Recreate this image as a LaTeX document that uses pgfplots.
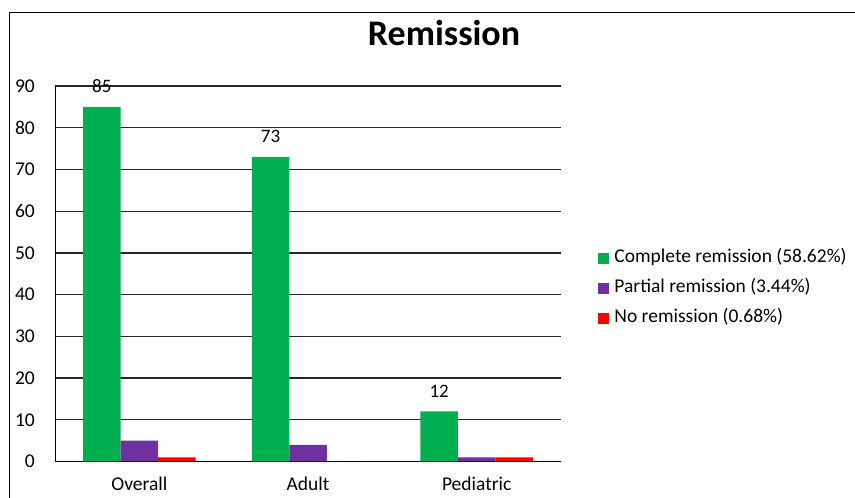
\documentclass[border=0pt]{standalone}
\usepackage{pgfplots}
\pgfplotsset{compat=1.18}
\usepackage{fontspec}
\setmainfont{Carlito}
\definecolor{cgreen}{HTML}{00B050}
\definecolor{cpurple}{HTML}{7030A0}
\definecolor{cred}{HTML}{FF0000}
\begin{document}
\begin{tikzpicture}[x=1bp,y=1bp]
\path[use as bounding box] (0,0) rectangle (855,498);
\draw[line width=1bp] (9,0) -- (9,485.5) -- (855,485.5);
\node[font=\fontsize{36bp}{40bp}\selectfont\bfseries] at (444,465) {Remission};
\begin{axis}[
  at={(55bp,36.5bp)}, anchor=south west,
  scale only axis, width=506bp, height=375.5bp,
  ybar, bar width=37.5bp,
  xmin=-0.5, xmax=2.5, ymin=0, ymax=90,
  ytick={0,10,...,90},
  xtick=data, xticklabels={Overall,Adult,Pediatric},
  axis x line=bottom, axis y line=left,
  axis line style={-, black, line width=0.9bp},
  x axis line style={line width=1.5bp},
  ymajorgrids, grid style={black!85, line width=1.3bp},
  major tick length=0pt,
  tick style={draw=none},
  /pgf/number format/assume math mode=true,
  y tick label style={font=\fontsize{19.5bp}{22bp}\selectfont, anchor=east, inner sep=0pt, xshift=-20bp},
  x tick label style={font=\fontsize{19.5bp}{22bp}\selectfont, anchor=base, inner sep=0pt, yshift=-29bp},
  legend style={draw=none, fill=none, at={(1.074,0.46)}, anchor=west,
    font=\fontsize{19.5bp}{22bp}\selectfont, inner sep=0pt, outer sep=0pt,
    row sep=14bp,
    nodes={inner sep=0pt, text height=12bp, text depth=4bp},
    /tikz/every odd column/.append style={column sep=5bp}},
  legend cell align=left,
  legend image code/.code={\fill[#1] (0bp,-5.5bp) rectangle (11bp,5.5bp);},
  clip=false,
]
\addplot[fill=cgreen, draw=none, bar shift=-37.5bp,
  nodes near coords, nodes near coords style={font=\fontsize{19bp}{22bp}\selectfont, anchor=base, inner sep=0pt, yshift=14bp, black},
  /pgf/number format/assume math mode=true]
  coordinates {(0,85) (1,73) (2,12)};
\addplot[fill=cpurple, draw=none, bar shift=0bp] coordinates {(0,5) (1,4) (2,1)};
\addplot[fill=cred, draw=none, bar shift=37.5bp] coordinates {(0,1) (1,0) (2,1)};
\legend{Complete remission (58.62\%), Partial remission (3.44\%), No remission (0.68\%)}
\end{axis}
\end{tikzpicture}
\end{document}
